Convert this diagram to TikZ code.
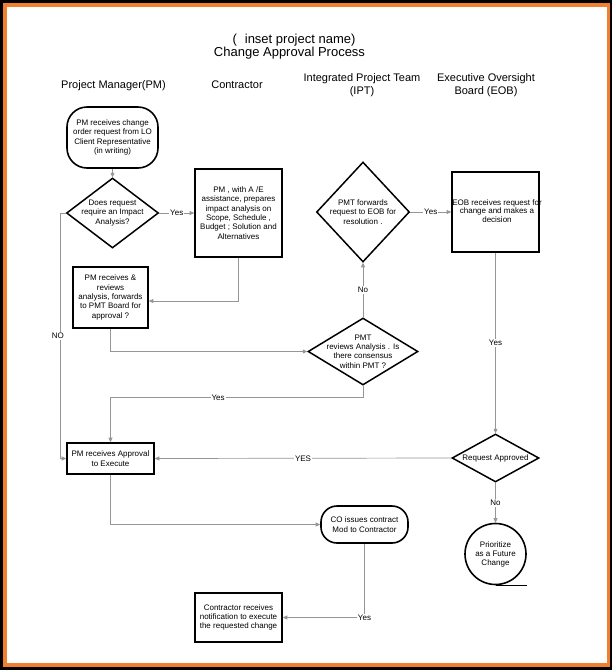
\documentclass[tikz,border=0pt]{standalone}
\usepackage{fontspec}
\setmainfont{Liberation Sans}
\usetikzlibrary{shapes.geometric,arrows.meta}
\definecolor{frameorange}{RGB}{240,128,48}
\definecolor{conn}{RGB}{150,150,150}
\begin{document}
\begin{tikzpicture}[x=1pt,y=-1pt,
  box/.style={draw=black,line width=1.6pt,inner sep=0pt,align=center,font=\fontsize{8}{9.4}\selectfont},
  dia/.style={diamond,draw=black,line width=1.5pt,inner sep=0pt},
  txt/.style={font=\fontsize{8}{9.4}\selectfont,align=center,inner sep=0pt},
  arr/.style={draw=conn,line width=0.7pt,-{Triangle[length=4.5pt,width=4pt,fill=conn]}},
  lbl/.style={font=\fontsize{8}{9.4}\selectfont,fill=white,inner sep=1pt,text=black},
  hdr/.style={font=\fontsize{11}{12.5}\selectfont,align=center,inner sep=0pt},
  ttl/.style={font=\fontsize{13}{15}\selectfont,inner sep=0pt},
]
% frame
\fill[black] (0,0) rectangle (612,670);
\fill[frameorange] (3,3) rectangle (609.5,666.5);
\fill[white] (6.5,6.5) rectangle (606.5,663);
\useasboundingbox (0,0) rectangle (612,670);

% title and headers
\node[ttl,anchor=base] (t1) at (294,43) {(\hspace{8pt}inset project name)};
\node[ttl,anchor=base] (t2) at (289.5,56.5) {Change Approval Process};
\node[hdr,anchor=base] (h1) at (113.5,88) {Project Manager(PM)};
\node[hdr,anchor=base] (h2) at (237,88) {Contractor};
\node[hdr] (h3) at (362,85) {Integrated Project Team\\(IPT)};
\node[hdr] (h4) at (486,85) {Executive Oversight\\Board (EOB)};

% nodes
\node[box,rounded corners=20pt,minimum width=91pt,minimum height=61pt] (n1) at (112.5,137.5)
  {PM receives change\\order request from LO\\Client Representative\\(in writing)};
\node[dia,minimum width=92pt,minimum height=70pt,
  label={[txt]center:Does request\\require an Impact\\Analysis?}] (d1) at (112.5,213) {};
\node[box,minimum width=87pt,minimum height=88pt] (c1) at (238.5,213)
  {PM , with A /E\\assistance, prepares\\impact analysis on\\Scope, Schedule ,\\Budget ; Solution and\\Alternatives};
\node[box,minimum width=75pt,minimum height=61pt] (b2) at (110.5,297.5)
  {PM receives \&\\reviews\\analysis, forwards\\to PMT Board for\\approval ?};
\node[dia,minimum width=110pt,minimum height=67pt,
  label={[txt]center:PMT\\reviews Analysis . Is\\there consensus\\within PMT ?}] (d3) at (363,351.5) {};
\node[dia,minimum width=93pt,minimum height=100pt,
  label={[txt]center:PMT forwards\\request to EOB for\\resolution .}] (d2) at (363,212) {};
\node[box,minimum width=87pt,minimum height=80pt] (e1) at (495.5,212) {};
\node[txt,font=\fontsize{8}{8.6}\selectfont] (e1t) at (497,211) {EOB receives request for\\change and makes a\\decision};
\node[dia,minimum width=87pt,minimum height=48pt,
  label={[txt]center:Request Approved}] (d4) at (495.5,458) {};
\node[circle,draw=black,line width=1.6pt,minimum size=61pt,inner sep=0pt,align=center,
  font=\fontsize{8}{9}\selectfont] (p1) at (495.5,554) {Prioritize\\as a Future\\Change};
\node[box,minimum width=87pt,minimum height=31pt] (a1) at (110.5,458.5)
  {PM receives Approval\\to Execute};
\node[box,rounded corners=16pt,minimum width=87pt,minimum height=37pt] (co) at (364.5,524.5)
  {CO issues contract\\Mod to Contractor};
\node[box,minimum width=87pt,minimum height=49pt] (cr) at (238.5,617.5)
  {Contractor receives\\notification to execute\\the requested change};
\draw[line width=1.6pt] (p1.south) -- ++(31,0);

% connectors
\draw[arr] (n1.south) -- (d1.north);
\draw[arr] (d1.east) -- node[lbl]{Yes} (c1.west);
\draw[arr] (c1.south) |- ([yshift=-3.5pt]b2.east);
\draw[arr] (d1.west) -- ++(-5,0) |- node[lbl,pos=0.25,xshift=-3pt]{NO} (a1.west);
\draw[arr] (b2.south) |- (d3.west);
\draw[arr] (d3.north) -- node[lbl]{No} (d2.south);
\draw[arr] (d2.east) -- node[lbl]{Yes} (e1.west);
\draw[arr] (e1.south) -- node[lbl]{Yes} (d4.north);
\draw[arr] (d3.south) -- ++(0,12) -| node[lbl,pos=0.287]{Yes} (a1.north);
\draw[arr] (d4.west) -- node[lbl]{YES} (a1.east);
\draw[arr] (d4.south) -- node[lbl]{No} (p1.north);
\draw[arr] (a1.south) |- (co.west);
\draw[arr] (co.south) |- node[lbl,pos=0.5]{Yes} (cr.east);
\end{tikzpicture}
\end{document}
